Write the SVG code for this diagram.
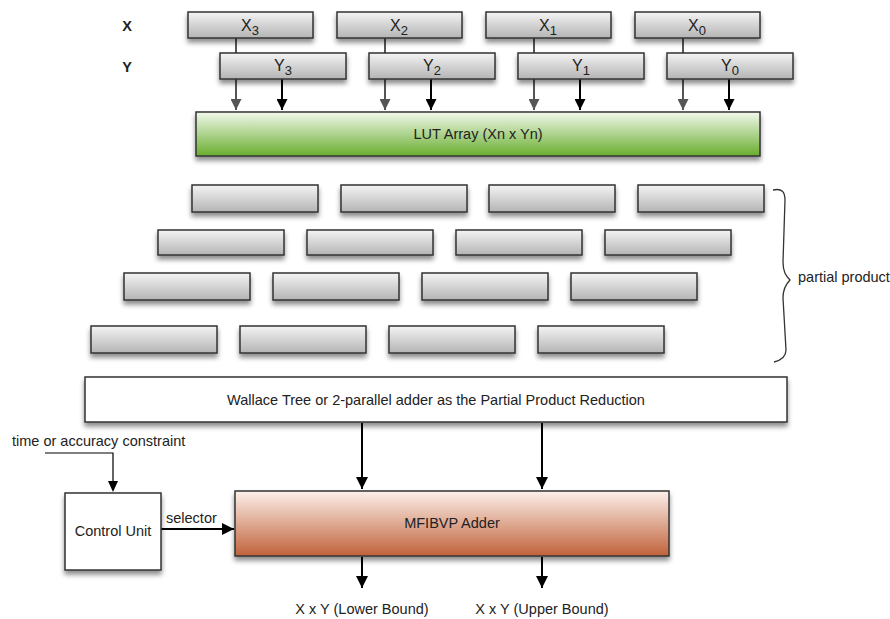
<svg xmlns="http://www.w3.org/2000/svg" width="890" height="619" viewBox="0 0 890 619">
<defs>
<linearGradient id="gGray" x1="0" y1="0" x2="0" y2="1">
<stop offset="0" stop-color="#f4f4f4"/><stop offset="1" stop-color="#b4b4b4"/>
</linearGradient>
<linearGradient id="gGreen" x1="0" y1="0" x2="0" y2="1">
<stop offset="0" stop-color="#f2f9ec"/><stop offset="1" stop-color="#68ad2e"/>
</linearGradient>
<linearGradient id="gRed" x1="0" y1="0" x2="0" y2="1">
<stop offset="0" stop-color="#fcf0ea"/><stop offset="1" stop-color="#c0623a"/>
</linearGradient>
<filter id="sh" x="-10%" y="-30%" width="120%" height="180%">
<feGaussianBlur in="SourceAlpha" stdDeviation="2.5"/>
<feOffset dx="0" dy="4" result="b"/>
<feComponentTransfer><feFuncA type="linear" slope="0.45"/></feComponentTransfer>
<feMerge><feMergeNode/><feMergeNode in="SourceGraphic"/></feMerge>
</filter>
<marker id="ab" viewBox="0 0 10 10" refX="10" refY="5" markerWidth="12" markerHeight="11" markerUnits="userSpaceOnUse" orient="auto">
<path d="M0,0 L10,5 L0,10 Z" fill="#000"/>
</marker>
<marker id="ag" viewBox="0 0 10 10" refX="10" refY="5" markerWidth="12" markerHeight="11" markerUnits="userSpaceOnUse" orient="auto">
<path d="M0,0 L10,5 L0,10 Z" fill="#555"/>
</marker>
<marker id="abig" viewBox="0 0 10 10" refX="10" refY="5" markerWidth="13" markerHeight="12" markerUnits="userSpaceOnUse" orient="auto">
<path d="M0,0 L10,5 L0,10 Z" fill="#000"/>
</marker>
</defs>
<style>
text{font-family:"Liberation Sans",Arial,sans-serif;font-size:14.5px;fill:#222}
.c{text-anchor:middle}
.g{fill:url(#gGray);stroke:#333;stroke-width:1.5;filter:url(#sh)}
.w{fill:#fff;stroke:#333;stroke-width:1.5;filter:url(#sh)}
.big{font-size:16px}
.sub{font-size:13px}
.lb{stroke:#000;stroke-width:2;fill:none}
.lg{stroke:#555;stroke-width:2;fill:none}
</style>
<text x="127" y="31" class="c" style="font-weight:bold">X</text>
<text x="127" y="72" class="c" style="font-weight:bold">Y</text>
<g id="connectors">
<path class="lg" d="M236,38 V110" marker-end="url(#ag)"/>
<path class="lg" d="M385,38 V110" marker-end="url(#ag)"/>
<path class="lg" d="M534,38 V110" marker-end="url(#ag)"/>
<path class="lg" d="M683,38 V110" marker-end="url(#ag)"/>
<path class="lb" d="M282,79 V110" marker-end="url(#ab)"/>
<path class="lb" d="M431,79 V110" marker-end="url(#ab)"/>
<path class="lb" d="M580,79 V110" marker-end="url(#ab)"/>
<path class="lb" d="M729,79 V110" marker-end="url(#ab)"/>
<path class="lb" d="M362,423 V489" marker-end="url(#abig)"/>
<path class="lb" d="M542,423 V489" marker-end="url(#abig)"/>
<path class="lb" d="M362,557 V588" marker-end="url(#abig)"/>
<path class="lb" d="M542,557 V588" marker-end="url(#abig)"/>
<path class="lb" d="M161,529 H234" marker-end="url(#abig)"/>
<path stroke="#000" stroke-width="1.2" fill="none" d="M45,453 H113 V482"/>
<path d="M108,481 L113,492 L118,481 Z" fill="#000"/>
</g>
<g id="x3"><rect class="g" x="188" y="12" width="125" height="26"/><text x="250" y="31" class="c big">X<tspan class="sub" dy="4">3</tspan></text></g>
<g id="x2"><rect class="g" x="337" y="12" width="125" height="26"/><text x="399" y="31" class="c big">X<tspan class="sub" dy="4">2</tspan></text></g>
<g id="x1"><rect class="g" x="486" y="12" width="125" height="26"/><text x="548" y="31" class="c big">X<tspan class="sub" dy="4">1</tspan></text></g>
<g id="x0"><rect class="g" x="635" y="12" width="125" height="26"/><text x="697" y="31" class="c big">X<tspan class="sub" dy="4">0</tspan></text></g>
<g id="y3"><rect class="g" x="220" y="53" width="126" height="26"/><text x="283" y="71" class="c big">Y<tspan class="sub" dy="4">3</tspan></text></g>
<g id="y2"><rect class="g" x="369" y="53" width="126" height="26"/><text x="432" y="71" class="c big">Y<tspan class="sub" dy="4">2</tspan></text></g>
<g id="y1"><rect class="g" x="518" y="53" width="126" height="26"/><text x="581" y="71" class="c big">Y<tspan class="sub" dy="4">1</tspan></text></g>
<g id="y0"><rect class="g" x="667" y="53" width="126" height="26"/><text x="730" y="71" class="c big">Y<tspan class="sub" dy="4">0</tspan></text></g>
<g id="lut"><rect x="196" y="112" width="564" height="44" fill="url(#gGreen)" stroke="#333" stroke-width="1.5" filter="url(#sh)"/><text x="478" y="139" class="c">LUT Array (Xn x Yn)</text></g>
<g id="pp">
<rect class="g" x="192" y="185" width="126" height="27"/>
<rect class="g" x="341" y="185" width="126" height="27"/>
<rect class="g" x="489" y="185" width="126" height="27"/>
<rect class="g" x="638" y="185" width="126" height="27"/>
<rect class="g" x="158" y="230" width="126" height="25"/>
<rect class="g" x="307" y="230" width="126" height="25"/>
<rect class="g" x="456" y="230" width="126" height="25"/>
<rect class="g" x="605" y="230" width="126" height="25"/>
<rect class="g" x="124" y="273" width="126" height="27"/>
<rect class="g" x="273" y="273" width="126" height="27"/>
<rect class="g" x="422" y="273" width="126" height="27"/>
<rect class="g" x="571" y="273" width="126" height="27"/>
<rect class="g" x="91" y="326" width="126" height="27"/>
<rect class="g" x="240" y="326" width="126" height="27"/>
<rect class="g" x="389" y="326" width="126" height="27"/>
<rect class="g" x="538" y="326" width="126" height="27"/>
</g>
<g id="brace">
<path d="M773,190 C782,188 785,192 785,200 L783,262 C783,272 786,276 790,280 C786,284 783,290 783,298 L786,350 C786,356 782,360 774,362" stroke="#333" stroke-width="1.3" fill="none"/>
<text x="798" y="282">partial product</text>
</g>
<g id="wallace"><rect class="w" x="85" y="377" width="702" height="45"/><text x="436" y="405" class="c">Wallace Tree or 2-parallel adder as the Partial Product Reduction</text></g>
<g id="constraint"><text x="12" y="446">time or accuracy constraint</text></g>
<g id="control"><rect class="w" x="65" y="493" width="96" height="77"/><text x="113" y="536" class="c">Control Unit</text></g>
<text x="166" y="523">selector</text>
<g id="mfibvp"><rect x="235" y="491" width="434" height="65" fill="url(#gRed)" stroke="#333" stroke-width="1.5" filter="url(#sh)"/><text x="452" y="528" class="c">MFIBVP Adder</text></g>
<g id="outputs">
<text x="362" y="614" class="c">X x Y (Lower Bound)</text>
<text x="542" y="614" class="c">X x Y (Upper Bound)</text>
</g>
</svg>
